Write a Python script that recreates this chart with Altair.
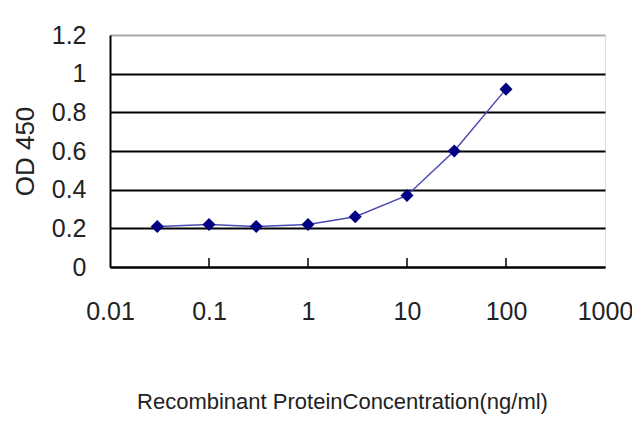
import altair as alt
import pandas as pd

# concentration (ng/ml) and OD 450 readings
conc = [0.03, 0.1, 0.3, 1, 3, 10, 30, 100]
od450 = [0.21, 0.22, 0.21, 0.22, 0.26, 0.37, 0.60, 0.92]
decades = [0.01, 0.1, 1, 10, 100, 1000]
y_ticks = [0, 0.2, 0.4, 0.6, 0.8, 1.0, 1.2]
inner_ticks = [0.1, 1, 10, 100]

source = pd.DataFrame({'conc': conc, 'od': od450})
ticks = pd.DataFrame({'t': inner_ticks})

W, H = 495, 232
font = 'Liberation Sans'

x_scale = alt.Scale(type='log', domain=[0.01, 1000])
y_scale = alt.Scale(domain=[0, 1.2])

line = alt.Chart(source).mark_line(color='#4a4ab0', strokeWidth=1.5).encode(
    alt.X('conc:Q', scale=x_scale,
          axis=alt.Axis(values=decades, tickCount=10, format='~g', tickSize=0, labelPadding=32,
                        labelFontSize=25, labelColor='#222', grid=False,
                        labelOverlap=False, labelFlush=False,
                        domainColor='black', domainWidth=2,
                        title='Recombinant ProteinConcentration(ng/ml)',
                        titleFontSize=22, titleFontWeight='normal', titleColor='#222',
                        titlePadding=67, titleX=232)),
    alt.Y('od:Q', scale=y_scale,
          axis=alt.Axis(values=y_ticks, tickCount=20, format='~g',
                        labelOverlap=False, labelFlush=False,
                        tickSize=0, labelPadding=24, labelFontSize=25, labelColor='#222',
                        domainColor='black', domainWidth=2,
                        gridColor={'condition': {'test': 'datum.value >= 1.2', 'value': '#aaaaaa'},
                                   'value': 'black'},
                        gridWidth=2,
                        title='OD 450', titleFontSize=26, titleFontWeight='normal',
                        titleColor='#222', titlePadding=13)),
)

points = alt.Chart(source).mark_point(shape='diamond', filled=True, color='#000080',
                                      size=170, opacity=1).encode(
    x=alt.X('conc:Q', scale=x_scale),
    y=alt.Y('od:Q', scale=y_scale),
)

tick_marks = alt.Chart(ticks).mark_rule(color='black', strokeWidth=1.5).encode(
    x=alt.X('t:Q', scale=x_scale),
    y=alt.value(H - 9),
    y2=alt.value(H),
)

chart = (
    alt.layer(line, tick_marks, points)
    .properties(width=W, height=H, autosize='none',
                padding={'left': 102, 'top': 27, 'right': 27, 'bottom': 150})
    .configure_view(stroke='#aaaaaa', strokeWidth=1.5)
    .configure(font=font, background='white')
)

chart.save('out.html', embed_options={'renderer': 'svg', 'actions': False})
